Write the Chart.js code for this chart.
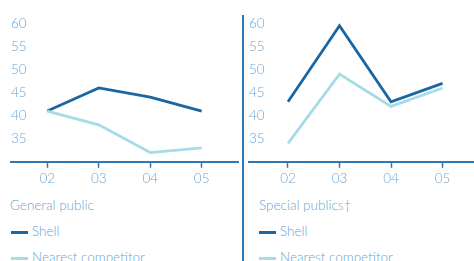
<!DOCTYPE html>
<html>
<head>
<meta charset="utf-8">
<script src="https://cdn.jsdelivr.net/npm/chart.js@4/dist/chart.umd.min.js"></script>
<style>
  html, body { margin: 0; padding: 0; background: #fff; }
  body { width: 474px; height: 261px; position: relative; overflow: hidden;
         font-family: Lato, "Open Sans", sans-serif; font-weight: 300; color: #6aa3d2; }
  .panel { position: absolute; top: 0; height: 190px; }
  #left { left: 0; width: 239px; }
  #right { left: 246px; width: 230px; }
  .sep { position: absolute; left: 242px; top: 15px; width: 2px; height: 246px; background: #2b79b9; }
  .title { position: absolute; font-size: 13.5px; }
  .leg { position: absolute; font-size: 13.5px; }
  .leg i { position: absolute; left: 0; top: 8px; width: 17px; height: 3px; }
  .leg span { position: absolute; left: 21px; top: 0; white-space: nowrap; }
</style>
</head>
<body>
<div class="panel" id="left"><canvas id="c1"></canvas></div>
<div class="panel" id="right"><canvas id="c2"></canvas></div>
<div class="sep"></div>

<div class="title" style="left:10px;top:197px">General public</div>
<div class="leg" style="left:11px;top:223px"><i style="background:#1a66a3"></i><span>Shell</span></div>
<div class="leg" style="left:11px;top:249px"><i style="background:#a5dce6"></i><span>Nearest competitor</span></div>

<div class="title" style="left:259px;top:197px">Special publics†</div>
<div class="leg" style="left:259px;top:223px"><i style="background:#1a66a3"></i><span>Shell</span></div>
<div class="leg" style="left:259px;top:249px"><i style="background:#a5dce6"></i><span>Nearest competitor</span></div>

<script>
const years = ['02', '03', '04', '05'];
const yTicks = [35, 40, 45, 50, 55, 60];

const generalShell = [41, 46, 44, 41];
const generalCompetitor = [41, 38, 32, 33];

const specialShell = [43, 59.5, 43, 47];
const specialCompetitor = [34, 49, 42, 46];

const shellColour = '#1a66a3';
const competitorColour = '#a5dce6';
const textColour = '#6aa3d2';
const axisColour = '#2b79b9';
const font = { family: 'Lato, "Open Sans", sans-serif', size: 13.5, weight: 300 };

function toPoints(values) {
  return values.map((v, i) => ({ x: i, y: v }));
}

// x is linear so the axis line can run past the first and last year
function drawPanel(id, shell, competitor, xMin, xMax, padLeft) {
  new Chart(document.getElementById(id), {
    type: 'line',
    data: {
      datasets: [
        { label: 'Nearest competitor', data: toPoints(competitor), borderColor: competitorColour,
          borderWidth: 2.8, pointRadius: 0, tension: 0 },
        { label: 'Shell', data: toPoints(shell), borderColor: shellColour,
          borderWidth: 2.8, pointRadius: 0, tension: 0 }
      ]
    },
    options: {
      responsive: true,
      maintainAspectRatio: false,
      animation: false,
      layout: { padding: { left: padLeft, top: 0, right: 0, bottom: 0 } },
      plugins: { legend: { display: false }, tooltip: { enabled: false } },
      scales: {
        x: {
          type: 'linear', min: xMin, max: xMax,
          afterBuildTicks: axis => { axis.ticks = years.map((_, i) => ({ value: i })); },
          ticks: { color: textColour, font: font, padding: 3, maxRotation: 0,
                   callback: v => years[v] },
          grid: { drawOnChartArea: false, drawTicks: true, tickLength: 6, tickColor: axisColour, tickWidth: 1.5 },
          border: { display: true, color: axisColour, width: 2 }
        },
        y: {
          min: 30, max: 63.3,
          afterBuildTicks: axis => { axis.ticks = yTicks.map(v => ({ value: v })); },
          ticks: { color: textColour, font: font, mirror: true, padding: 0 },
          grid: { display: false, drawTicks: false },
          border: { display: false }
        }
      }
    }
  });
}

drawPanel('c1', generalShell, generalCompetitor, -0.706, 3.725, 11);
drawPanel('c2', specialShell, specialCompetitor, -0.757, 3.65, 3);
</script>
</body>
</html>
